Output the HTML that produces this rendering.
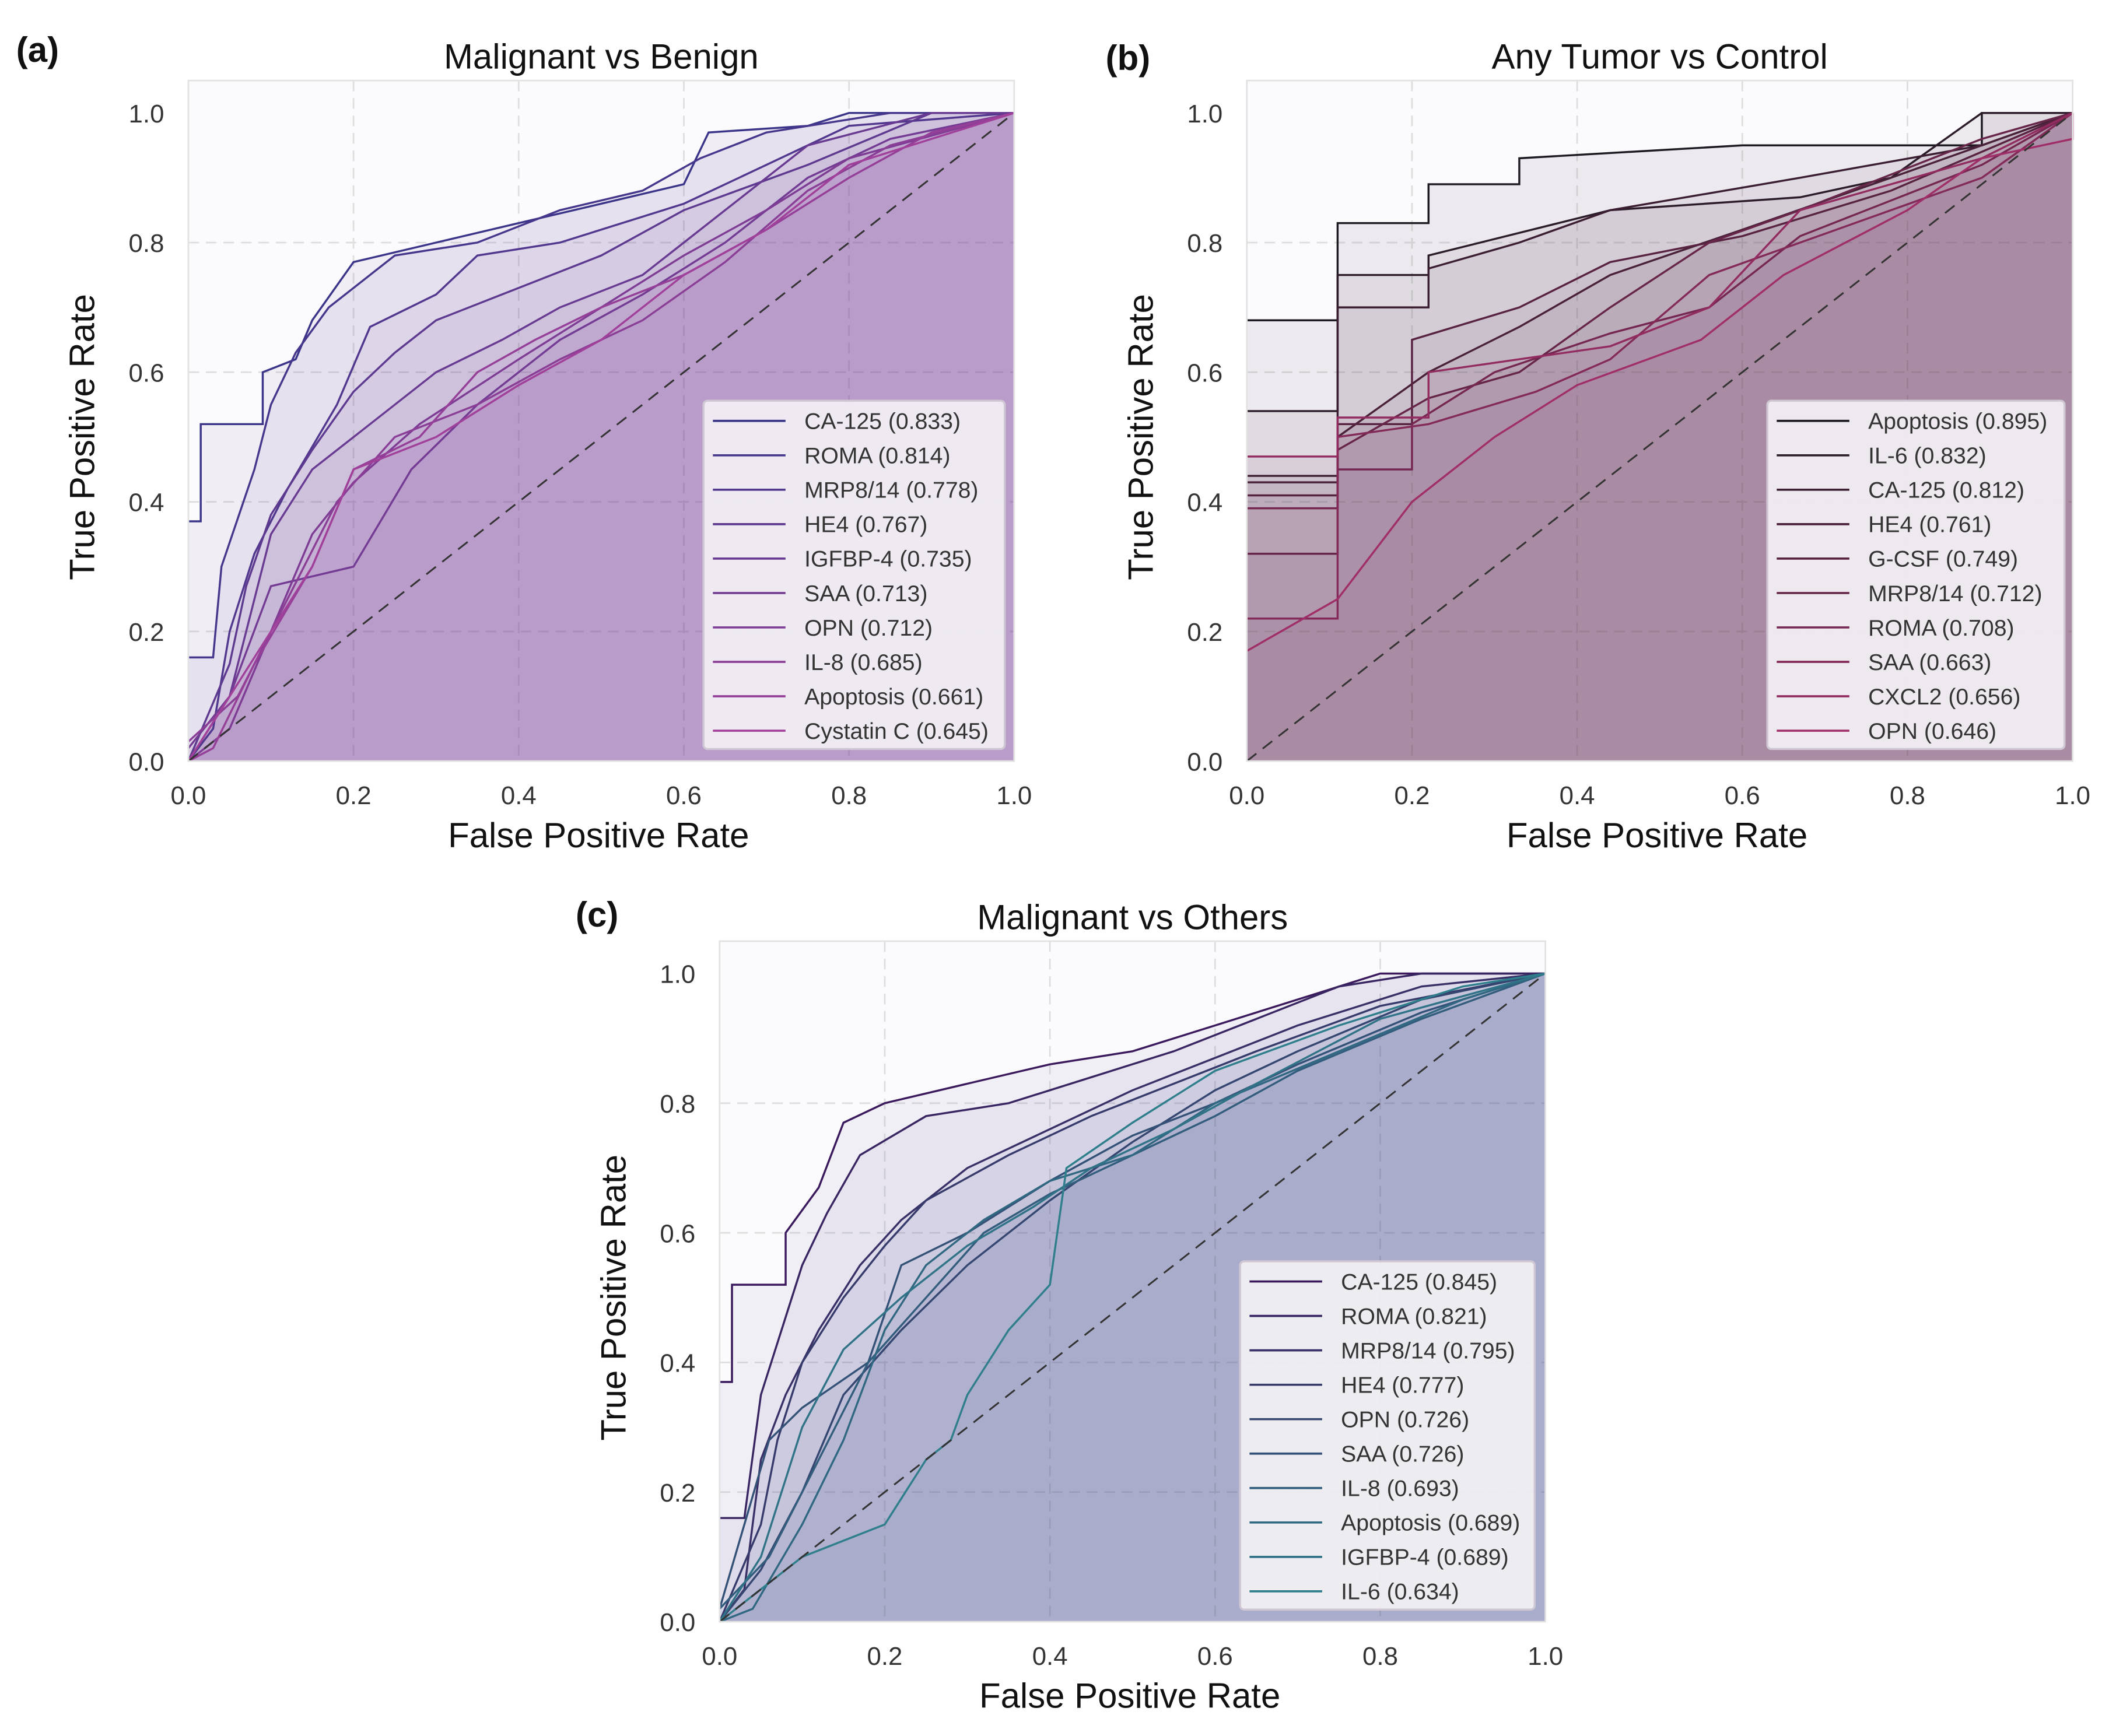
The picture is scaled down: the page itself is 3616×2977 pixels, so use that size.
<!DOCTYPE html>
<html><head><meta charset="utf-8"><style>
html,body{margin:0;padding:0;background:#fff}
svg{display:block}
text{font-family:"Liberation Sans",Arial,sans-serif}
</style></head><body>
<svg id="fig" width="3616" height="2977" viewBox="0 0 1568 1291" xmlns="http://www.w3.org/2000/svg"></svg>
<script>
// ---- Data ----
const namesA=["CA-125 (0.833)","ROMA (0.814)","MRP8/14 (0.778)","HE4 (0.767)","IGFBP-4 (0.735)","SAA (0.713)","OPN (0.712)","IL-8 (0.685)","Apoptosis (0.661)","Cystatin C (0.645)"];
const curvesA=[
[[0,0.37],[0.015,0.37],[0.015,0.52],[0.09,0.52],[0.09,0.6],[0.13,0.62],[0.15,0.68],[0.2,0.77],[0.3,0.8],[0.4,0.83],[0.5,0.86],[0.6,0.89],[0.63,0.97],[0.75,0.98],[0.8,1],[1,1]],
[[0,0.16],[0.03,0.16],[0.04,0.3],[0.08,0.45],[0.1,0.55],[0.13,0.63],[0.17,0.7],[0.25,0.78],[0.35,0.8],[0.45,0.85],[0.55,0.88],[0.62,0.93],[0.7,0.97],[0.85,1],[1,1]],
[[0,0],[0.03,0.05],[0.05,0.2],[0.08,0.32],[0.12,0.42],[0.18,0.55],[0.22,0.67],[0.3,0.72],[0.35,0.78],[0.45,0.8],[0.6,0.86],[0.7,0.92],[0.8,0.98],[1,1]],
[[0,0],[0.05,0.15],[0.07,0.27],[0.1,0.38],[0.15,0.48],[0.2,0.57],[0.25,0.63],[0.3,0.68],[0.4,0.73],[0.5,0.78],[0.6,0.85],[0.75,0.92],[0.9,1],[1,1]],
[[0,0],[0.05,0.1],[0.1,0.35],[0.15,0.45],[0.22,0.52],[0.3,0.6],[0.38,0.65],[0.45,0.7],[0.55,0.75],[0.65,0.85],[0.75,0.95],[0.9,1],[1,1]],
[[0,0.02],[0.05,0.1],[0.1,0.27],[0.2,0.3],[0.27,0.45],[0.35,0.55],[0.45,0.65],[0.55,0.72],[0.65,0.8],[0.75,0.9],[0.85,0.96],[1,1]],
[[0,0],[0.05,0.05],[0.1,0.2],[0.15,0.35],[0.2,0.43],[0.28,0.52],[0.4,0.62],[0.5,0.7],[0.6,0.78],[0.7,0.85],[0.8,0.93],[1,1]],
[[0,0.03],[0.06,0.1],[0.12,0.25],[0.18,0.4],[0.25,0.5],[0.35,0.55],[0.45,0.62],[0.55,0.68],[0.65,0.77],[0.75,0.88],[0.85,0.95],[1,1]],
[[0,0],[0.03,0.02],[0.08,0.15],[0.15,0.3],[0.2,0.45],[0.28,0.5],[0.35,0.6],[0.42,0.65],[0.5,0.7],[0.6,0.75],[0.7,0.82],[0.8,0.9],[0.9,0.97],[1,1]],
[[0,0],[0.05,0.1],[0.1,0.2],[0.15,0.3],[0.2,0.45],[0.3,0.5],[0.4,0.58],[0.5,0.65],[0.6,0.75],[0.7,0.82],[0.8,0.92],[1,1]]];
const namesB=["Apoptosis (0.895)","IL-6 (0.832)","CA-125 (0.812)","HE4 (0.761)","G-CSF (0.749)","MRP8/14 (0.712)","ROMA (0.708)","SAA (0.663)","CXCL2 (0.656)","OPN (0.646)"];
const curvesB=[
[[0,0.68],[0.11,0.68],[0.11,0.83],[0.22,0.83],[0.22,0.89],[0.33,0.89],[0.33,0.93],[0.6,0.95],[0.89,0.95],[0.89,1],[1,1]],
[[0,0.54],[0.11,0.54],[0.11,0.75],[0.22,0.75],[0.22,0.78],[0.44,0.85],[0.67,0.87],[0.78,0.9],[0.89,1],[1,1]],
[[0,0.44],[0.11,0.44],[0.11,0.7],[0.22,0.7],[0.22,0.76],[0.33,0.8],[0.44,0.85],[0.67,0.9],[0.89,0.95],[1,1]],
[[0,0.43],[0.11,0.43],[0.11,0.5],[0.22,0.6],[0.33,0.67],[0.44,0.75],[0.6,0.82],[0.78,0.9],[1,1]],
[[0,0.41],[0.11,0.41],[0.11,0.52],[0.2,0.52],[0.2,0.65],[0.33,0.7],[0.44,0.77],[0.6,0.81],[0.78,0.88],[1,1]],
[[0,0.32],[0.11,0.32],[0.11,0.48],[0.22,0.56],[0.33,0.6],[0.44,0.7],[0.56,0.8],[0.67,0.85],[0.89,0.96],[1,1]],
[[0,0.39],[0.11,0.39],[0.11,0.45],[0.2,0.45],[0.2,0.52],[0.3,0.6],[0.44,0.66],[0.56,0.7],[0.67,0.81],[0.89,0.92],[1,1]],
[[0,0.22],[0.11,0.22],[0.11,0.5],[0.22,0.52],[0.35,0.57],[0.44,0.62],[0.56,0.75],[0.67,0.8],[0.89,0.9],[1,1]],
[[0,0.47],[0.11,0.47],[0.11,0.53],[0.22,0.53],[0.22,0.6],[0.44,0.64],[0.56,0.7],[0.67,0.85],[0.89,0.93],[1,1]],
[[0,0.17],[0.11,0.25],[0.2,0.4],[0.3,0.5],[0.4,0.58],[0.55,0.65],[0.65,0.75],[0.8,0.85],[0.89,0.93],[1,0.96],[1,1]]];
const namesC=["CA-125 (0.845)","ROMA (0.821)","MRP8/14 (0.795)","HE4 (0.777)","OPN (0.726)","SAA (0.726)","IL-8 (0.693)","Apoptosis (0.689)","IGFBP-4 (0.689)","IL-6 (0.634)"];
const curvesC=[
[[0,0.37],[0.015,0.37],[0.015,0.52],[0.08,0.52],[0.08,0.6],[0.12,0.67],[0.15,0.77],[0.2,0.8],[0.3,0.83],[0.4,0.86],[0.5,0.88],[0.6,0.92],[0.7,0.96],[0.8,1],[1,1]],
[[0,0.16],[0.03,0.16],[0.05,0.35],[0.08,0.47],[0.1,0.55],[0.13,0.63],[0.17,0.72],[0.25,0.78],[0.35,0.8],[0.45,0.84],[0.55,0.88],[0.65,0.93],[0.75,0.98],[0.85,1],[1,1]],
[[0,0],[0.03,0.05],[0.05,0.25],[0.08,0.35],[0.12,0.45],[0.17,0.55],[0.22,0.62],[0.3,0.7],[0.4,0.76],[0.5,0.82],[0.6,0.87],[0.7,0.92],[0.85,0.98],[1,1]],
[[0,0],[0.05,0.15],[0.07,0.28],[0.1,0.4],[0.15,0.5],[0.2,0.58],[0.25,0.65],[0.35,0.72],[0.45,0.78],[0.55,0.83],[0.65,0.88],[0.8,0.95],[1,1]],
[[0,0],[0.05,0.08],[0.1,0.2],[0.15,0.35],[0.22,0.45],[0.3,0.55],[0.4,0.65],[0.5,0.74],[0.6,0.82],[0.7,0.88],[0.85,0.96],[1,1]],
[[0,0.02],[0.06,0.28],[0.1,0.33],[0.18,0.4],[0.22,0.55],[0.3,0.6],[0.4,0.68],[0.5,0.75],[0.6,0.8],[0.7,0.86],[0.85,0.94],[1,1]],
[[0,0.02],[0.06,0.1],[0.12,0.25],[0.18,0.4],[0.25,0.5],[0.32,0.6],[0.4,0.66],[0.5,0.72],[0.6,0.78],[0.7,0.85],[0.85,0.93],[1,1]],
[[0,0],[0.04,0.02],[0.1,0.15],[0.15,0.28],[0.2,0.45],[0.25,0.55],[0.32,0.62],[0.4,0.68],[0.5,0.72],[0.6,0.8],[0.75,0.88],[0.9,0.96],[1,1]],
[[0,0],[0.05,0.1],[0.1,0.3],[0.15,0.42],[0.22,0.5],[0.3,0.58],[0.38,0.64],[0.45,0.7],[0.55,0.76],[0.65,0.83],[0.8,0.93],[1,1]],
[[0,0],[0.03,0.03],[0.1,0.1],[0.2,0.15],[0.25,0.25],[0.28,0.28],[0.3,0.35],[0.35,0.45],[0.4,0.52],[0.42,0.7],[0.5,0.77],[0.6,0.85],[0.75,0.92],[0.9,0.98],[1,1]]];
const ticks=[0,0.2,0.4,0.6,0.8,1.0];
const tickLabels=["0.0","0.2","0.4","0.6","0.8","1.0"];

const NS="http://www.w3.org/2000/svg";
const svg=document.getElementById('fig');
function mk(tag,attrs,parent,txt){const e=document.createElementNS(NS,tag);for(const k in attrs)e.setAttribute(k,attrs[k]);if(txt!==undefined)e.textContent=txt;(parent||svg).appendChild(e);return e;}
function lerpCol(a,b,t){const pa=[1,3,5].map(i=>parseInt(a.substr(i,2),16)),pb=[1,3,5].map(i=>parseInt(b.substr(i,2),16));return 'rgb('+pa.map((v,i)=>Math.round(v+(pb[i]-v)*t)).join(',')+')';}

function panel(id,x0,yTop,title,label,names,curves,c0,c1,f0,f1,alpha,legX){
  const W=614,H=482;const x1=x0+W,y0=yTop+H;
  const sx=v=>x0+v*W, sy=v=>y0-v*H;
  const g=mk('g',{});
  
  
  mk('rect',{x:x0,y:sy(1.05),width:W,height:H*1.05,fill:'#fbfafc'},g);
  ticks.forEach((t,i)=>{
    if(i>0&&i<5){mk('line',{x1:sx(t),x2:sx(t),y1:sy(1.05),y2:y0,stroke:'#dedede','stroke-width':1.2,'stroke-dasharray':'8,5'},g);
      mk('line',{x1:x0,x2:x1,y1:sy(t),y2:sy(t),stroke:'#dedede','stroke-width':1.2,'stroke-dasharray':'8,5'},g);}
    const xl=mk('text',{x:sx(t),y:y0+32,'text-anchor':'middle','font-size':19,fill:'#333'},g,tickLabels[i]);
    
    const yl=mk('text',{x:x0-18,y:sy(t)+7,'text-anchor':'end','font-size':19,fill:'#333'},g,tickLabels[i]);
    
  });
  curves.forEach((c,i)=>{
    const col=lerpCol(f0,f1,i/9);
    const pts=c.map(p=>sx(p[0]).toFixed(1)+','+sy(p[1]).toFixed(1));
    const f=mk('polygon',{points:pts.join(' ')+' '+sx(1)+','+sy(0)+' '+sx(0)+','+sy(0),fill:col,'fill-opacity':alpha,stroke:'none'},g);
    
  });
  curves.forEach((c,i)=>{
    const col=lerpCol(c0,c1,i/9);
    const pts=c.map(p=>sx(p[0]).toFixed(1)+','+sy(p[1]).toFixed(1));
    const l=mk('polyline',{points:pts.join(' '),fill:'none',stroke:col,'stroke-width':1.5},g);
    
  });
  const d=mk('line',{x1:sx(0),y1:sy(0),x2:sx(1),y2:sy(1),stroke:'#333','stroke-width':1.3,'stroke-dasharray':'9,6'},g);
  
  mk('rect',{x:x0,y:sy(1.05),width:W,height:H*1.05,fill:'none',stroke:'#e2e2e2','stroke-width':1.2},g);
  const lg=mk('g',{},g);
  
  const lw=legX.w;
  mk('rect',{x:legX.x,y:yTop+214,width:lw,height:259,rx:3,fill:'#f3f1f4','fill-opacity':0.92,stroke:'#cfc8d4','stroke-width':1.5},lg);
  names.forEach((n,i)=>{
    const yy=yTop+229+i*25.6;
    mk('line',{x1:legX.x+7,x2:legX.x+61,y1:yy,y2:yy,stroke:lerpCol(c0,c1,i/9),'stroke-width':1.6},lg);
    const t=mk('text',{x:legX.x+75,y:yy+6,'font-size':17,fill:'#333'},lg,n);
    
  });
  const tt=mk('text',{x:x0+W/2,y:yTop-33,'text-anchor':'middle','font-size':26,fill:'#111'},g,title);
  
  const xa=mk('text',{x:x0+W/2-2,y:y0+64,'text-anchor':'middle','font-size':26,fill:'#111'},g,'False Positive Rate');
  
  const cy=y0-H/2;
  const ya=mk('text',{x:x0-70,y:cy,'text-anchor':'middle','font-size':26,fill:'#111',transform:'rotate(-90 '+(x0-70)+' '+cy+')'},g,'True Positive Rate');
  
  const pl=mk('text',{x:label.x,y:label.y,'font-size':26,'font-weight':'bold',fill:'#111'},g,label.t);
  
}
panel('a',140,84,'Malignant vs Benign',{x:12,y:46,t:'(a)'},namesA,curvesA,'#3b358a','#a0409a','#5a3a9a','#9a4aa0',0.065,{x:523,w:224});
panel('b',927,84,'Any Tumor vs Control',{x:822,y:52,t:'(b)'},namesB,curvesB,'#1e1a22','#a02e68','#3a2a40','#8a3a70',0.075,{x:1314,w:221});
panel('c',535,724,'Malignant vs Others',{x:428,y:689,t:'(c)'},namesC,curvesC,'#3a1a5c','#2f7e8c','#4a3a8a','#4a5a9a',0.055,{x:922,w:219});
</script>
</body></html>
